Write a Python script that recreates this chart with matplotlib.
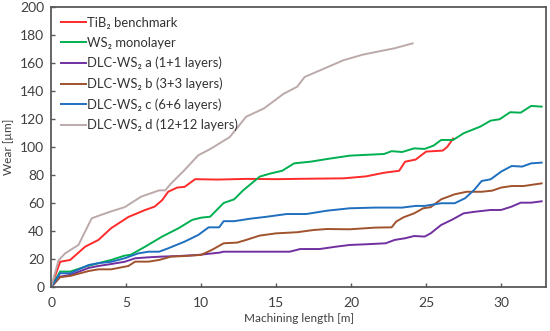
import matplotlib
matplotlib.use('agg')
from matplotlib import pyplot as plt

plt.rcParams['font.family'] = ['Lato', 'DejaVu Sans']

# wear curves, x in m, y in µm
tib2_x = [0, 0.6, 1.27, 2.27, 3.15, 4.0, 5.15, 6.27, 6.9, 7.4, 7.8, 8.4, 8.9, 9.6, 11.1,
          13.0, 15.0, 17.0, 19.5, 21.0, 22.2, 23.2, 23.6, 24.3, 25.0, 26.1, 26.4, 26.8]
tib2_y = [0, 18, 19.3, 28.8, 33.6, 42, 50, 55, 57.4, 62, 68, 71, 71.5, 77, 76.7,
          77.2, 77, 77.3, 77.6, 79, 81.6, 83, 89.5, 91, 96.7, 97.4, 100, 106]

ws2_x = [0, 0.6, 1.27, 2.27, 3.15, 4.0, 4.9, 5.3, 6.27, 7.4, 8.5, 9.4, 10.0, 10.6, 11.5,
         12.2, 12.8, 13.9, 14.6, 15.4, 16.2, 17.3, 18.4, 19.9, 22.2, 22.7, 23.4, 24.2,
         24.9, 25.5, 26.0, 26.8, 27.5, 28.6, 29.3, 29.9, 30.6, 31.3, 32.0, 32.7]
ws2_y = [0, 11, 11, 14.5, 17, 19.3, 22.4, 23, 28.8, 36, 42, 47.9, 49.5, 50.2, 60,
         62.6, 69, 78.8, 81, 83, 88.3, 89.5, 91.4, 93.8, 95, 97, 96.4, 99,
         98.6, 101, 105, 105, 109.8, 114.5, 118.8, 119.8, 124.8, 124.5, 129.3, 128.8]

a_x = [0, 0.6, 1.27, 2.5, 3.15, 4.0, 4.9, 5.6, 6.5, 7.4, 8.5, 9.8, 11.2, 11.5, 15.9,
       16.6, 17.9, 19.0, 19.9, 21.0, 22.3, 22.9, 23.6, 24.2, 24.9, 25.3, 26.0, 26.7,
       27.5, 28.3, 29.3, 30.0, 30.7, 31.3, 32.0, 32.7]
a_y = [0, 7.4, 8.6, 13.6, 15, 16.4, 18, 20.5, 21.2, 21.7, 22.1, 22.9, 24.5, 25.2, 25.2,
       27.1, 27.1, 28.8, 30, 30.5, 31.2, 33.6, 34.8, 36.4, 36, 38.3, 44.3, 47.9,
       52.6, 53.8, 55, 55, 57.4, 60.2, 60.2, 61.2]

b_x = [0, 0.6, 1.27, 2.5, 3.15, 4.0, 5.15, 5.6, 6.5, 7.2, 8.0, 8.9, 10.0, 10.7, 11.5,
       12.4, 13.0, 13.9, 15.0, 16.4, 17.5, 18.4, 19.9, 21.6, 22.7, 23.0, 23.5, 24.2,
       24.8, 25.3, 26.0, 26.9, 27.7, 28.7, 29.4, 30.0, 30.7, 31.5, 32.7]
b_y = [0, 7, 7.9, 11.4, 12.6, 12.6, 15, 18.1, 18.1, 19.3, 21.7, 22.1, 22.9, 26.4, 31.2,
       31.7, 33.6, 36.7, 38.3, 39.1, 40.7, 41.4, 41.2, 42.4, 42.6, 46.7, 49.8, 52.6,
       56.2, 57, 62.6, 66.2, 68, 68, 68.8, 71, 72.1, 72.1, 74]

c_x = [0, 0.6, 1.27, 2.5, 3.15, 4.0, 4.9, 5.8, 6.5, 7.2, 7.8, 8.9, 9.8, 10.5, 11.2,
       11.5, 12.2, 13.3, 14.4, 15.7, 17.0, 18.4, 19.9, 21.6, 23.4, 24.3, 24.9, 26.0,
       26.9, 27.6, 28.2, 28.7, 29.3, 30.0, 30.7, 31.4, 32.0, 32.7]
c_y = [0, 9.8, 9.8, 15.7, 17, 18, 20.5, 24, 25.2, 25.2, 27.6, 32.4, 37.1, 42.6, 42.6,
       47, 47, 48.8, 50.2, 52.1, 52.1, 54.5, 56.2, 56.7, 56.7, 57.9, 57.9, 59.8,
       59.8, 63.4, 69.3, 75.7, 76.9, 82.4, 86.4, 86, 88.3, 88.8]

d_x = [0, 0.49, 0.93, 1.82, 2.7, 3.2, 4.0, 4.9, 6.0, 7.2, 7.6, 8.0, 8.9, 9.8, 10.6,
       11.9, 13.0, 14.2, 15.5, 16.4, 16.9, 18.2, 19.5, 20.8, 22.2, 22.9, 24.1]
d_y = [0, 19, 24, 30, 49, 51, 54, 57, 64.5, 69, 69, 74, 83.6, 94, 98.5,
       107, 121.6, 127.6, 138, 143, 150, 156, 162, 166, 169, 170.5, 174]

series = [
    (tib2_x, tib2_y, 'TiB\u2082 benchmark', '#ff2a2a'),
    (ws2_x, ws2_y, 'WS\u2082 monolayer', '#00b050'),
    (a_x, a_y, 'DLC-WS\u2082 a (1+1 layers)', '#7030a0'),
    (b_x, b_y, 'DLC-WS\u2082 b (3+3 layers)', '#a0522d'),
    (c_x, c_y, 'DLC-WS\u2082 c (6+6 layers)', '#1f6fbf'),
    (d_x, d_y, 'DLC-WS\u2082 d (12+12 layers)', '#bcaaaa'),
]

fig = plt.figure(figsize=(5.5, 3.31), dpi=100)
ax = fig.add_axes([0.093, 0.133, 0.9, 0.846])

for xs, ys, label, color in series:
    ax.plot(xs, ys, color=color, linewidth=1.4, label=label)

ax.set_xlim(0, 33)
ax.set_ylim(0, 200)
ax.set_xticks(range(0, 31, 5))
ax.set_yticks(range(0, 201, 20))
ax.tick_params(direction='in', length=3, width=1, color='#595959',
               labelsize=10, labelcolor='#404040', pad=5)
ax.tick_params(axis='x', pad=7)
for sp in ax.spines.values():
    sp.set_color('#595959')
    sp.set_linewidth(1.3)

ax.set_xlabel('Machining length [m]', fontsize=8.5, color='#404040', labelpad=3)
ax.set_ylabel('Wear [\u00b5m]', fontsize=8.5, color='#404040', labelpad=4)

leg = ax.legend(loc='upper left', frameon=False, fontsize=9.4, handlelength=1.9,
                handletextpad=0.1, labelspacing=0.62, borderaxespad=0.35)
for t in leg.get_texts():
    t.set_color('#333333')

fig.savefig('out.png', dpi=100)
